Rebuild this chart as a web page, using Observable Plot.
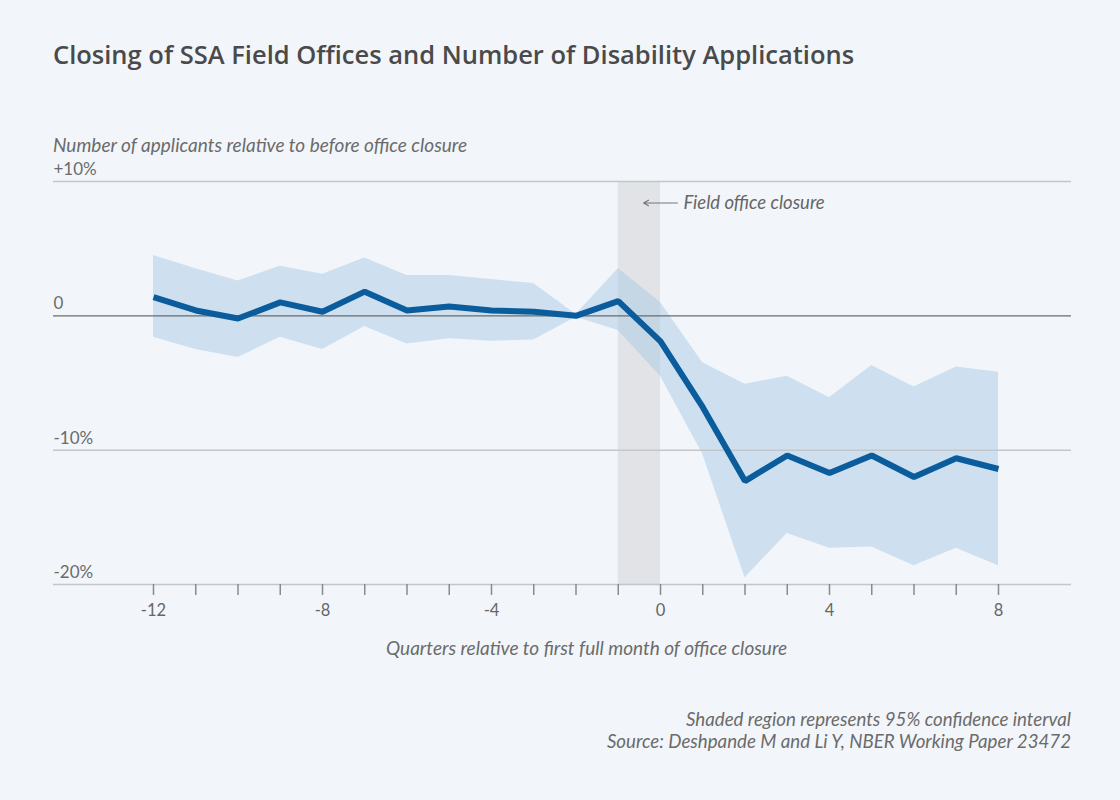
<!DOCTYPE html>
<html>
<head>
<meta charset="utf-8">
<script src="https://cdn.jsdelivr.net/npm/d3@7"></script>
<script src="https://cdn.jsdelivr.net/npm/@observablehq/plot@0.6"></script>
<style>
  html, body { margin: 0; padding: 0; background: #f2f6fa; width: 1120px; height: 800px; overflow: hidden; }
  body { position: relative; font-family: Lato, "Noto Sans", sans-serif; color: #666; }
  .abs { position: absolute; line-height: 1; white-space: nowrap; }
  #title { left: 53px; top: 42px; font-family: "Open Sans", Lato, sans-serif; font-size: 25.5px; font-weight: 600; color: #4a4a4a; }
  #ylabel { left: 53px; top: 135px; font-size: 19px; font-style: italic; color: #6b6b6b; }
  #xlabel { left: 386px; top: 638px; font-size: 19px; font-style: italic; color: #6b6b6b; }
  #caption { right: 49px; top: 708px; font-size: 18.7px; font-style: italic; color: #6b6b6b; text-align: right; line-height: 22px; }
  #chart { position: absolute; left: 0; top: 150px; }
</style>
</head>
<body>
<div id="title" class="abs">Closing of SSA Field Offices and Number of Disability Applications</div>
<div id="ylabel" class="abs">Number of applicants relative to before office closure</div>
<div id="chart"></div>
<div id="xlabel" class="abs">Quarters relative to first full month of office closure</div>
<div id="caption" class="abs">Shaded region represents 95% confidence interval<br>Source: Deshpande M and Li Y, NBER Working Paper 23472</div>
<script>
const quarters = [-12,-11,-10,-9,-8,-7,-6,-5,-4,-3,-2,-1,0,1,2,3,4,5,6,7,8];
const estimate = [1.4,0.4,-0.2,1.0,0.3,1.8,0.4,0.7,0.4,0.3,0.0,1.1,-1.9,-6.8,-12.3,-10.4,-11.7,-10.4,-12.0,-10.6,-11.4];
const upperCI  = [4.5,3.5,2.6,3.7,3.1,4.3,3.0,3.0,2.7,2.4,0.1,3.5,1.0,-3.5,-5.1,-4.5,-6.1,-3.7,-5.3,-3.8,-4.2];
const lowerCI  = [-1.6,-2.5,-3.1,-1.6,-2.5,-0.8,-2.1,-1.7,-1.9,-1.8,-0.1,-1.1,-4.5,-10.3,-19.5,-16.2,-17.3,-17.2,-18.6,-17.3,-18.6];
const yTicks = [10, 0, -10, -20];
const yTickLabels = ["+10%", "0", "-10%", "-20%"];
const xLabelTicks = [-12, -8, -4, 0, 4, 8];
const closureBand = [{x1: -1, x2: 0, y1: -20, y2: 10}];
const annotation = [{x1: 0.4, x2: -0.4, y: 8.4, label: "Field office closure"}];

const data = quarters.map((q, i) => ({q, est: estimate[i], lo: lowerCI[i], hi: upperCI[i]}));
const yLabels = yTicks.map((v, i) => ({v, label: yTickLabels[i]}));

const chart = Plot.plot({
  width: 1120,
  height: 520,
  marginLeft: 53,
  marginRight: 49,
  marginTop: 31,
  marginBottom: 86,
  style: {background: "transparent", fontFamily: "Lato, 'Noto Sans', sans-serif", color: "#666"},
  x: {type: "linear", domain: [-14.367, 9.728]},
  y: {type: "linear", domain: [-20, 10], axis: null},
  marks: [
    Plot.rect(closureBand, {x1: "x1", x2: "x2", y1: "y1", y2: "y2", fill: "#e1e3e6"}),
    Plot.areaY(data, {x: "q", y1: "lo", y2: "hi", fill: "#a9c9e3", fillOpacity: 0.5}),
    Plot.ruleY([10, -10, -20], {stroke: "#c3c7cc", strokeWidth: 1.5}),
    Plot.ruleY([0], {stroke: "#6b6b6b", strokeWidth: 1.2}),
    Plot.axisX({ticks: quarters, tickSize: 11, tickPadding: 9, tickFormat: d => xLabelTicks.includes(d) ? String(d) : "", fontSize: 16.5, stroke: "#8a8a8a", strokeWidth: 1.5, color: "#666", label: null}),
    Plot.text(yLabels, {y: "v", text: "label", frameAnchor: "left", textAnchor: "start", dy: -12, fontSize: 17, fill: "#6b6b6b"}),
    Plot.line(data, {x: "q", y: "est", stroke: "#0a5c9c", strokeWidth: 6, strokeLinejoin: "miter", strokeLinecap: "butt"}),
    Plot.arrow(annotation, {x1: "x1", x2: "x2", y1: "y", y2: "y", stroke: "#777", strokeWidth: 1.2, headLength: 7}),
    Plot.text(annotation, {x: "x1", y: "y", text: "label", textAnchor: "start", dx: 6, fontSize: 18.5, fontStyle: "italic", fill: "#666"})
  ]
});
document.getElementById("chart").appendChild(chart);
</script>
</body>
</html>
